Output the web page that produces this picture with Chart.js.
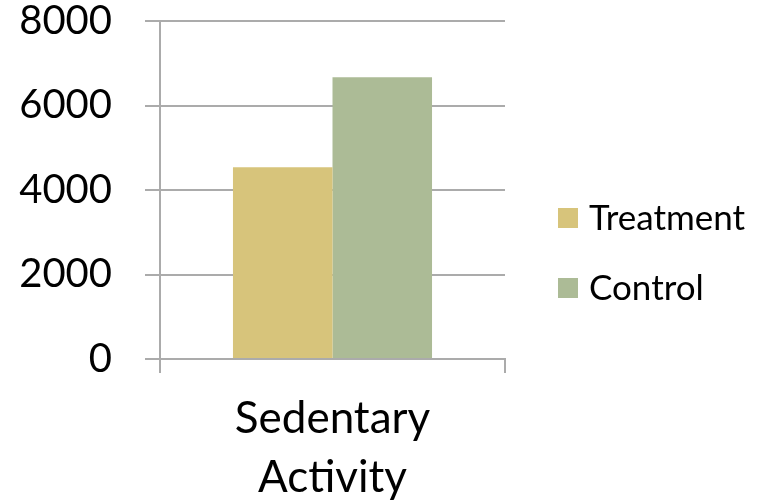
<!DOCTYPE html>
<html>
<head>
<meta charset="utf-8">
<script src="https://cdn.jsdelivr.net/npm/chart.js@4.4.1/dist/chart.umd.min.js"></script>
<style>
  html, body { margin: 0; padding: 0; background: #ffffff; }
  #wrap { width: 759px; height: 503px; position: relative; }
</style>
</head>
<body>
<div id="wrap"><canvas id="chart"></canvas></div>
<script>
// Chart data
const categories = [['Sedentary', 'Activity']];
const seriesNames = ['Treatment', 'Control'];
const treatmentValues = [4540];
const controlValues = [6670];
const yTicks = [0, 2000, 4000, 6000, 8000];

const seriesColors = ['#D7C47B', '#ACBB96'];
const gridColor = '#ABABAB';
const fontFamily = 'Lato, "Liberation Sans", sans-serif';

// Legend drawn to the right of the plot: square swatch + label per series
const sideLegend = {
  id: 'sideLegend',
  afterDraw(chart) {
    const ctx = chart.ctx;
    const x0 = 558, y0 = 218, step = 70, box = 20;
    ctx.save();
    ctx.font = '35px ' + fontFamily;
    ctx.textBaseline = 'middle';
    ctx.textAlign = 'left';
    chart.data.datasets.forEach((ds, i) => {
      const cy = y0 + i * step;
      ctx.fillStyle = ds.backgroundColor;
      ctx.fillRect(x0, cy - box / 2, box, box);
      ctx.fillStyle = '#000000';
      ctx.fillText(ds.label, x0 + box + 11, cy + 1);
    });
    ctx.restore();
  }
};

new Chart(document.getElementById('chart'), {
  type: 'bar',
  data: {
    labels: categories,
    datasets: [
      { label: seriesNames[0], data: treatmentValues, backgroundColor: seriesColors[0] },
      { label: seriesNames[1], data: controlValues, backgroundColor: seriesColors[1] }
    ]
  },
  options: {
    responsive: true,
    maintainAspectRatio: false,
    animation: false,
    layout: { padding: { top: 0, right: 254, left: 0, bottom: 0 } },
    datasets: {
      bar: { categoryPercentage: 0.577, barPercentage: 1.0, borderWidth: 0 }
    },
    plugins: {
      legend: { display: false },
      tooltip: { enabled: false }
    },
    scales: {
      x: {
        grid: {
          display: true,
          drawOnChartArea: false,
          drawTicks: true,
          tickLength: 14,
          color: gridColor,
          lineWidth: 2
        },
        border: { display: true, color: gridColor, width: 2 },
        ticks: {
          color: '#000000',
          padding: 17,
          font: { family: fontFamily, size: 44, lineHeight: 1.33 }
        },
        afterFit(scale) { scale.height = 144; }
      },
      y: {
        min: 0,
        max: 8000,
        afterBuildTicks(scale) { scale.ticks = yTicks.map(v => ({ value: v })); },
        grid: {
          color: gridColor,
          lineWidth: 2,
          drawTicks: true,
          tickLength: 15
        },
        border: { display: true, color: gridColor, width: 2 },
        ticks: {
          color: '#000000',
          padding: 33,
          callback: (v) => String(v),
          font: { family: fontFamily, size: 40, lineHeight: 1 }
        },
        afterFit(scale) {
          scale.width = 160;
          // keep only half a label of room above the top tick
          scale.paddingTop = 21;
          scale.paddingBottom = 21;
        }
      }
    }
  },
  plugins: [sideLegend]
});
</script>
</body>
</html>
